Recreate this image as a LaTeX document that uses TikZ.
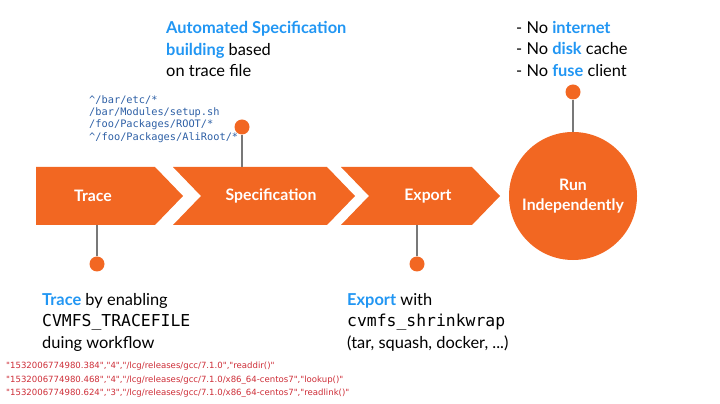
\documentclass[tikz,border=0pt]{standalone}
\usepackage{fontspec}
\setmainfont{Lato}
\setmonofont{DejaVu Sans Mono}
\newfontfamily\logfont{DejaVu Sans}
\usepackage{xcolor}
\usetikzlibrary{positioning}
\definecolor{stageorange}{RGB}{242,103,34}
\definecolor{hiblue}{RGB}{33,150,243}
\definecolor{codeblue}{RGB}{45,95,165}
\definecolor{logred}{RGB}{205,45,55}
\definecolor{pingray}{RGB}{120,120,120}
\newcommand{\hi}[1]{\textbf{\textcolor{hiblue}{#1}}}
\tikzstyle{stage}=[fill=stageorange]
\tikzstyle{stagelabel}=[text=white,font=\fontsize{13.5}{16}\selectfont\bfseries,inner sep=0pt]
\tikzstyle{pindot}=[circle,fill=stageorange,minimum size=0.45cm,inner sep=0pt]
\tikzstyle{pinline}=[draw=pingray,line width=1pt]
\tikzstyle{note}=[align=left,anchor=north west,inner sep=0pt,font=\fontsize{14}{18.4}\selectfont]

\begin{document}
\begin{tikzpicture}[x=0.03cm,y=-0.03cm]
    \useasboundingbox (0,0) rectangle (720,404);
    % First we draw the three stages
    \foreach \xl/\xr/\notch in {36/155/0, 173/327/28, 341/472/28}
        \fill[stage] (\xl,167) -- (\xr,167) -- (\xr+28,196) -- (\xr,225) -- (\xl,225) -- (\xl+\notch,196) -- cycle;
    \foreach \pos/\name/\label in {{(93,196)/tracelbl/Trace}, {(271,196)/speclbl/Specification}, {(428,196)/exportlbl/Export}}
        \node[stagelabel] (\name) at \pos {\label};
    \node[circle,fill=stageorange,minimum size=3.84cm,align=center,text=white,
          font=\fontsize{13.5}{17}\selectfont\bfseries] (run) at (573,196) {Run\\Independently};

    % Pins and their lines
    \coordinate (traceedge) at (97,225);
    \coordinate (specedge) at (242,167);
    \coordinate (exportedge) at (417,225);
    \foreach \pos/\name in {{(97,264)/tracepin}, {(242,127)/specpin}, {(417,264)/exportpin}, {(573,92)/runpin}}
        \node[pindot] (\name) at \pos {};
    \foreach \source/\dest in {tracepin/traceedge, specpin/specedge, exportpin/exportedge, runpin/run}
        \path[pinline] (\source) -- (\dest);

    % Notes
    \node[note] (specnote) at (166,21) {\hi{Automated Specification}\\\hi{building} based\\on trace file};
    \node[note] (runnote) at (516,21) {- No \hi{internet}\\- No \hi{disk} cache\\- No \hi{fuse} client};
    \node[note] (tracenote) at (42,293) {\hi{Trace} by enabling\\\texttt{CVMFS\_TRACEFILE}\\duing workflow};
    \node[note] (exportnote) at (347,293) {\hi{Export} with\\\texttt{cvmfs\_shrinkwrap}\\(tar, squash, docker, ...)};
    \node[note,text=codeblue,font=\ttfamily\fontsize{8.8}{10.6}\selectfont] (globs) at (89,95)
        {\textasciicircum/bar/etc/*\\/bar/Modules/setup.sh\\/foo/Packages/ROOT/*\\\textasciicircum/foo/Packages/AliRoot/*};
    \node[note,text=logred,font=\logfont\fontsize{7.3}{11.5}\selectfont] (tracelog) at (6,362)
        {"1532006774980.384","4","/lcg/releases/gcc/7.1.0","readdir()"\\
         "1532006774980.468","4","/lcg/releases/gcc/7.1.0/x86\_64-centos7","lookup()"\\
         "1532006774980.624","3","/lcg/releases/gcc/7.1.0/x86\_64-centos7","readlink()"};
\end{tikzpicture}
\end{document}
